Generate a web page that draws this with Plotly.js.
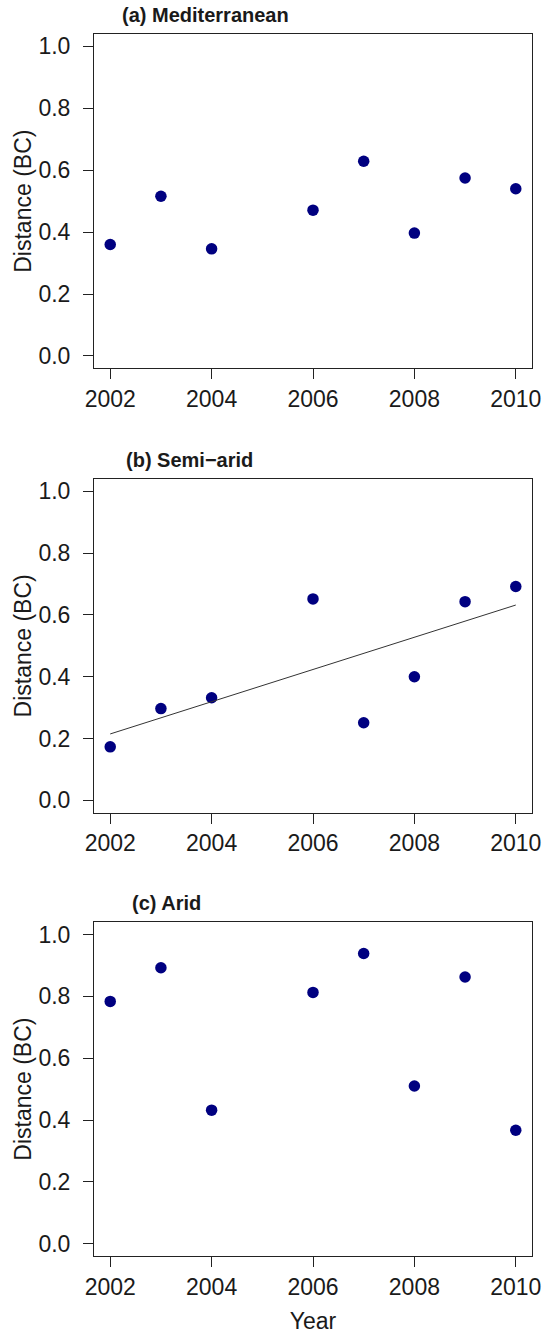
<!DOCTYPE html>
<html>
<head>
<meta charset="utf-8">
<script src="https://cdn.plot.ly/plotly-3.0.1.min.js"></script>
<style>html,body{margin:0;padding:0;background:#fff}</style>
</head>
<body>
<div id="chart" style="width:544px;height:1335px"></div>
<script>
// ---- data ----
const years = [2002, 2003, 2004, 2006, 2007, 2008, 2009, 2010];
const mediterranean = [0.360, 0.516, 0.346, 0.471, 0.629, 0.397, 0.575, 0.540];
const semiArid = [0.173, 0.297, 0.332, 0.652, 0.251, 0.400, 0.643, 0.692];
const arid = [0.784, 0.893, 0.432, 0.813, 0.939, 0.510, 0.863, 0.367];
const panelTitles = ['(a) Mediterranean', '(b) Semi\u2212arid', '(c) Arid'];
const xTickVals = [2002, 2004, 2006, 2008, 2010];
const yTickVals = [0, 0.2, 0.4, 0.6, 0.8, 1.0];
const yTitle = 'Distance (BC)';
const xTitle = 'Year';

// least-squares fit for the semi-arid panel
function linFit(x, y) {
  const n = x.length;
  const mx = x.reduce((a, b) => a + b, 0) / n;
  const my = y.reduce((a, b) => a + b, 0) / n;
  let sxy = 0, sxx = 0;
  for (let i = 0; i < n; i++) { sxy += (x[i] - mx) * (y[i] - my); sxx += (x[i] - mx) ** 2; }
  const b = sxy / sxx;
  return { a: my - b * mx, b: b };
}
const fit = linFit(years, semiArid);
const fitX = [Math.min(...years), Math.max(...years)];
const fitY = fitX.map(v => fit.a + fit.b * v);

const FONT = 'Liberation Sans, Arial, sans-serif';
const TXT = '#1a1a1a';
const marker = { color: '#000080', size: 11.5, line: { width: 0 } };

const series = [mediterranean, semiArid, arid];
const traces = series.map((s, i) => ({
  type: 'scatter', mode: 'markers', x: years, y: s,
  xaxis: i === 0 ? 'x' : 'x' + (i + 1), yaxis: i === 0 ? 'y' : 'y' + (i + 1),
  marker: marker, showlegend: false, hoverinfo: 'skip'
}));
traces.push({
  type: 'scatter', mode: 'lines', x: fitX, y: fitY, xaxis: 'x2', yaxis: 'y2',
  line: { color: '#333', width: 1 }, showlegend: false, hoverinfo: 'skip'
});

const domains = [[0.7264, 1.0], [0.3628, 0.6358], [0.0, 0.2731]];
const titleX = [0.0585, 0.069, 0.0822];

function xa(i) {
  return {
    domain: [0, 1], range: [2001.68, 2010.32], anchor: i === 0 ? 'y' : 'y' + (i + 1),
    tickvals: xTickVals, ticks: 'outside', ticklen: 10, tickwidth: 1, tickcolor: '#222',
    showline: true, mirror: true, linecolor: '#222', linewidth: 1,
    showgrid: false, zeroline: false,
    tickfont: { family: FONT, size: 23, color: TXT },
    title: i === 2 ? { text: xTitle, font: { family: FONT, size: 23, color: TXT }, standoff: 14 } : { text: '' }
  };
}
function ya(i) {
  return {
    domain: domains[i], range: [-0.04, 1.04], anchor: i === 0 ? 'x' : 'x' + (i + 1),
    tickvals: yTickVals, tickformat: '.1f', ticks: 'outside', ticklen: 10, tickwidth: 1, tickcolor: '#222',
    showline: true, mirror: true, linecolor: '#222', linewidth: 1,
    showgrid: false, zeroline: false, ticklabelstandoff: 8,
    tickfont: { family: FONT, size: 23, color: TXT },
    title: { text: yTitle, font: { family: FONT, size: 23, color: TXT }, standoff: 0 }
  };
}

const layout = {
  width: 544, height: 1335,
  margin: { l: 94, r: 12, t: 34, b: 79 },
  paper_bgcolor: '#fff', plot_bgcolor: '#fff',
  xaxis: xa(0), xaxis2: xa(1), xaxis3: xa(2),
  yaxis: ya(0), yaxis2: ya(1), yaxis3: ya(2),
  annotations: panelTitles.map((t, i) => ({
    text: '<b>' + t + '</b>', xref: 'paper', yref: 'paper',
    x: titleX[i], y: domains[i][1], xanchor: 'left', yanchor: 'bottom', yshift: 6,
    showarrow: false, font: { family: FONT, size: 20, color: TXT }
  }))
};

Plotly.newPlot('chart', traces, layout, { staticPlot: true, displayModeBar: false });
</script>
</body>
</html>
